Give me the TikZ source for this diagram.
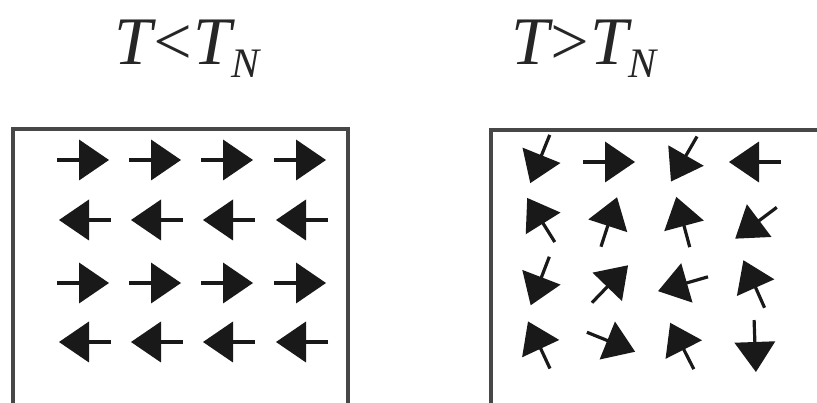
\documentclass[tikz,border=0pt]{standalone}
\usepackage{fontspec}
\setmainfont{Liberation Serif}
\begin{document}
\begin{tikzpicture}[x=1pt,y=1pt,
  frame/.style={line width=4pt,draw=black!72},
  titletext/.style={inner sep=0pt,anchor=base west,text=black!85,font=\fontsize{68}{72}\selectfont\itshape}]
\useasboundingbox (0,0) rectangle (817,-403);
\newcommand{\spinarr}[3]{%
  \begin{scope}[shift={(#1,-#2)},rotate=#3]
    \draw[line width=3.2pt,black!90] (-26,0) -- (-2,0);
    \fill[black!90] (-4,20.5) -- (26,0) -- (-4,-20.5) -- cycle;
  \end{scope}}
% titles
\node[titletext] (t1) at (114,-65) {T\kern-3pt<\kern-1pt T\raisebox{-13pt}{\fontsize{42}{42}\selectfont N}};
\node[titletext] (t2) at (511,-65) {T\kern-3pt>\kern-1pt T\raisebox{-13pt}{\fontsize{42}{42}\selectfont N}};
% frames
\draw[frame] (12.5,-410) -- (12.5,-129) -- (348,-129) -- (348,-410);
\draw[frame] (490.5,-410) -- (490.5,-130) -- (830,-130);
% left: ordered
\foreach \x in {83,155,227,300}{
  \spinarr{\x}{160}{0}
  \spinarr{\x+2}{220}{180}
  \spinarr{\x}{283}{0}
  \spinarr{\x+2}{342}{180}
}
% right: disordered
\spinarr{540}{159}{-112}
\spinarr{609}{162}{0}
\spinarr{684}{159}{-120}
\spinarr{755}{162}{180}
\spinarr{541}{220}{122}
\spinarr{609}{222}{72}
\spinarr{683}{222}{105}
\spinarr{756}{223}{-143}
\spinarr{540}{281}{-111}
\spinarr{610}{284}{46}
\spinarr{683}{284}{196}
\spinarr{754}{284}{114}
\spinarr{539}{345}{115}
\spinarr{611}{342}{-22}
\spinarr{682}{346}{117}
\spinarr{755}{346}{-88}
\end{tikzpicture}
\end{document}
